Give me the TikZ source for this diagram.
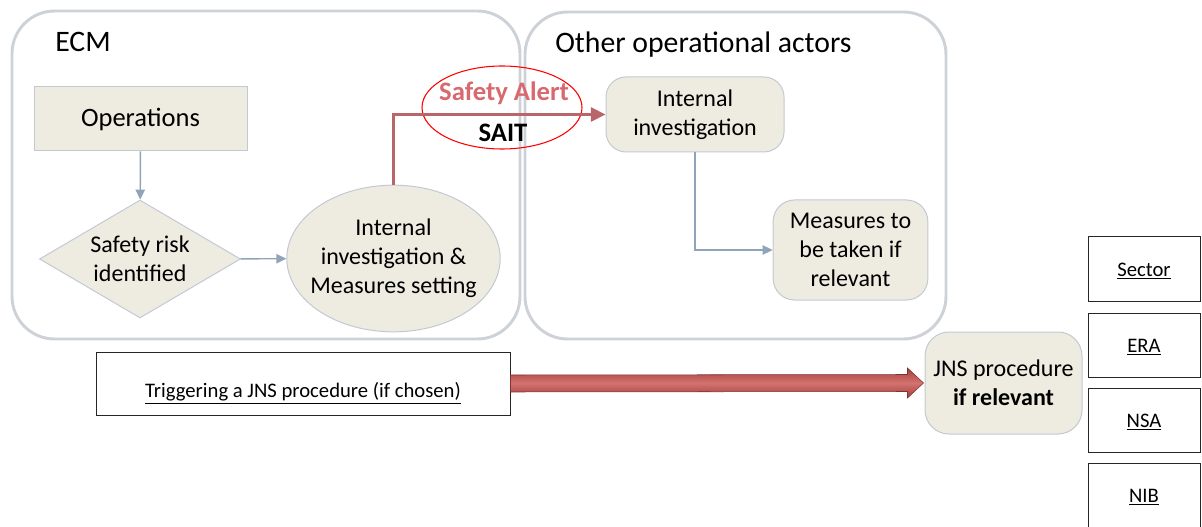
\documentclass[tikz,border=0pt]{standalone}
\usepackage{fontspec}
\setmainfont{Carlito}
\usetikzlibrary{arrows.meta,shapes.geometric,calc}
\definecolor{beige}{HTML}{EEECE1}
\definecolor{shapeborder}{HTML}{C3C9D3}
\definecolor{contborder}{HTML}{CDD1D8}
\definecolor{conn}{HTML}{8FA3B9}
\definecolor{alertline}{HTML}{B9666B}
\definecolor{alerttext}{HTML}{D7696F}
\definecolor{biglight}{HTML}{D4726E}
\definecolor{bigdark}{HTML}{9F3F3C}
\begin{document}
\begin{tikzpicture}[x=0.75pt,y=-0.75pt,
  container/.style={draw=contborder, line width=2.2pt, rounded corners=32pt, inner sep=0pt},
  title/.style={font=\fontsize{22.3}{26}\selectfont, anchor=base west, inner sep=0pt},
  proc/.style={draw=shapeborder, fill=beige, line width=0.75pt, align=center, inner sep=0pt,
    font=\fontsize{18}{21.75}\selectfont},
  rbox/.style={proc, rounded corners=15pt},
  plainbox/.style={draw=black!85, line width=0.75pt, fill=white, inner sep=0pt, align=center,
    font=\fontsize{15.5}{18}\selectfont},
  sidebox/.style={plainbox, minimum width=84pt, minimum height=48pt, text height=11pt, text depth=0pt},
  conn/.style={draw=conn, line width=1.1pt, -{Triangle[length=7.5pt,width=7pt]}},
  alertconn/.style={draw=alertline, line width=2.25pt, -{Triangle[length=11pt,width=10.5pt]}},
]
\useasboundingbox (0,0) rectangle (1202,527);

% containers
\node[container, minimum width=381pt, minimum height=246pt] (ecmbox) at (266,175) {};
\node[container, minimum width=315.75pt, minimum height=245.25pt] (otherbox) at (735.5,175.5) {};
\node[title] (ecmlabel) at (55,52) {ECM};
\node[title] (otherlabel) at (555,53) {Other operational actors};

% ECM shapes
\node[proc, minimum width=159.75pt, minimum height=48pt, font=\fontsize{19.9}{24}\selectfont] (ops) at (140.5,119) {Operations};
\node[proc, diamond, aspect=1.7, minimum width=150.75pt, minimum height=88.5pt] (risk) at (140,259) {Safety risk\\identified};
\node[proc, ellipse, inner xsep=-6pt, inner ysep=0pt, minimum width=160pt, minimum height=110pt] (inv) at (393.5,258.5) {Internal\\investigation \&\\Measures setting};

% other actors shapes
\node[rbox, minimum width=133.5pt, minimum height=56.25pt] (ii) at (695,114.5) {Internal\\investigation};
\node[rbox, minimum width=116pt, minimum height=75pt, rounded corners=16pt] (meas) at (850.5,250) {Measures to\\be taken if\\relevant};

% safety alert
\node[draw=red, line width=0.8pt, ellipse, minimum width=120pt, minimum height=62.25pt, inner sep=0pt] (alert) at (502,107.5) {};
\node[anchor=base, inner sep=0pt, text=alerttext, font=\fontsize{20}{24}\selectfont\bfseries] (alertlabel) at (504,101) {Safety Alert};
\node[anchor=base, inner sep=0pt, font=\fontsize{20}{24}\selectfont\bfseries] (saitlabel) at (503,142) {SAIT};

% bottom
\node[plainbox, minimum width=310.5pt, minimum height=47.25pt, text height=21.5pt, text depth=0pt] (trig) at (303,383.5) {\underline{Triggering a JNS procedure (if chosen)}};
\node[rbox, minimum width=117.75pt, minimum height=76.5pt, rounded corners=18pt] (jns) at (1003.5,383) {JNS procedure\\\textbf{if relevant}};

% right boxes
\node[sidebox] (sector) at (1144,269) {\underline{Sector}};
\node[sidebox] (era) at (1144,345) {\underline{ERA}};
\node[sidebox] (nsa) at (1144,420) {\underline{NSA}};
\node[sidebox] (nib) at (1144,495) {\underline{NIB}};

% connectors
\draw[conn] (ops) -- (risk);
\draw[conn] (risk) -- (inv);
\draw[alertconn] (inv.north) |- (ii.west);
\draw[conn] (ii.south) |- (meas.west);

% big arrow
\shade[top color=bigdark, bottom color=bigdark, middle color=biglight, draw=bigdark!80!black, line width=0.4pt]
  ($(trig.east)+(0,-8.5)$) -- ($(jns.west)+(-17,-8.5)$) -- ($(jns.west)+(-17,-15)$)
  -- ($(jns.west)+(-1,0)$) -- ($(jns.west)+(-17,15)$) -- ($(jns.west)+(-17,8.5)$)
  -- ($(trig.east)+(0,8.5)$) -- cycle;
\end{tikzpicture}
\end{document}
